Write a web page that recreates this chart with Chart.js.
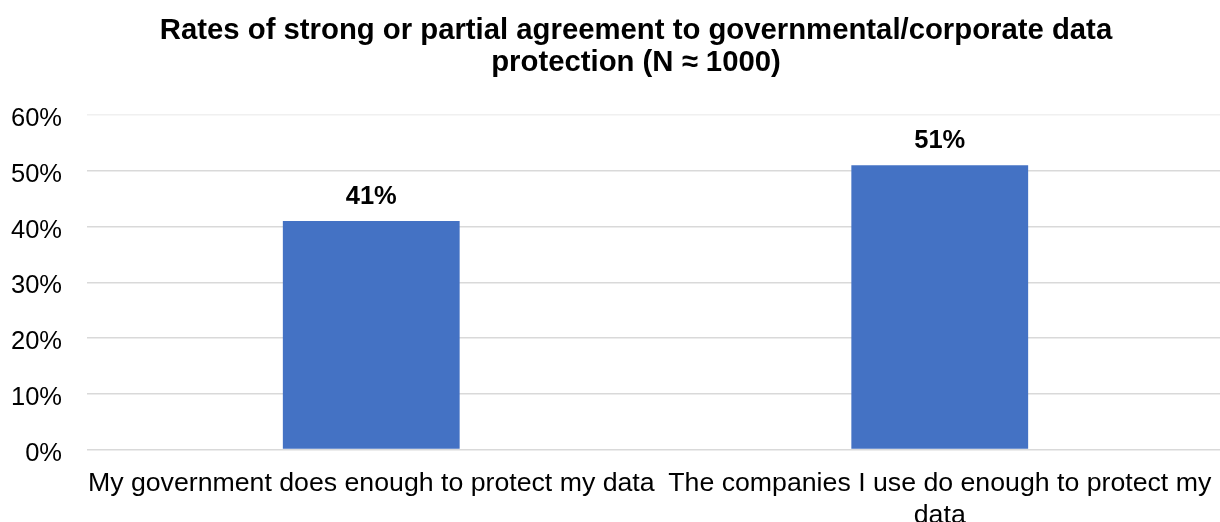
<!DOCTYPE html>
<html lang="en">
<head>
<meta charset="utf-8">
<title>Data protection agreement</title>
<style>
  html, body { margin: 0; padding: 0; background: #fff; overflow: hidden; }
  #wrap { width: 1224px; height: 522px; position: relative; }
</style>
</head>
<body>
<div id="wrap"><canvas id="myChart"></canvas></div>

<script src="https://cdn.jsdelivr.net/npm/chart.js"></script>
<script>
// categories (already wrapped into lines) and agreement rates in %
const categories = [
  ['My government does enough to protect my data'],
  ['The companies I use do enough to protect my', 'data']
];
const agreeRates = [41, 51];
const yTicks = [0, 10, 20, 30, 40, 50, 60];
const titleLines = [
  'Rates of strong or partial agreement to governmental/corporate data',
  'protection (N \u2248 1000)'
];

const FONT = '"Liberation Sans", Arial, Helvetica, sans-serif';

// two-line title, centred a bit right of the canvas middle
const chartTitle = {
  id: 'chartTitle',
  afterDraw(chart) {
    const ctx = chart.ctx;
    ctx.save();
    ctx.font = 'bold 29.3px ' + FONT;
    ctx.fillStyle = '#000';
    ctx.textAlign = 'center';
    ctx.textBaseline = 'middle';
    titleLines.forEach((line, i) => ctx.fillText(line, 636, 31 + i * 32));
    ctx.restore();
  }
};

// value labels above the bars
const barLabels = {
  id: 'barLabels',
  afterDatasetsDraw(chart) {
    const ctx = chart.ctx;
    const meta = chart.getDatasetMeta(0);
    ctx.save();
    ctx.font = 'bold 25.5px ' + FONT;
    ctx.fillStyle = '#000';
    ctx.textAlign = 'center';
    ctx.textBaseline = 'middle';
    meta.data.forEach((bar, i) => {
      ctx.fillText(agreeRates[i] + '%', bar.x, bar.y - 24);
    });
    ctx.restore();
  }
};

const ctx = document.getElementById('myChart');
const ch = new Chart(ctx, {
  type: 'bar',
  data: {
    labels: categories,
    datasets: [{
      data: agreeRates,
      backgroundColor: '#4472C4',
      barPercentage: 0.311,
      categoryPercentage: 1
    }]
  },
  options: {
    responsive: true,
    maintainAspectRatio: false,
    animation: false,
    layout: { padding: { left: 0, right: 0, top: 115, bottom: 0 } },
    plugins: {
      legend: { display: false },
      tooltip: { enabled: false },
      title: { display: false }
    },
    scales: {
      x: {
        grid: { display: false },
        border: { display: false },
        ticks: {
          color: '#000',
          padding: 10,
          maxRotation: 0,
          autoSkip: false,
          font: { family: FONT, size: 26.7, lineHeight: 1.2 }
        },
        afterFit(scale) { scale.height = 72.5; }
      },
      y: {
        min: 0,
        max: 60,
        afterBuildTicks(scale) { scale.ticks = yTicks.map(v => ({ value: v })); },
        grid: {
          drawTicks: false,
          lineWidth: 1.5,
          color: c => c.tick && c.tick.value === 60 ? '#f0f0f0' : '#d9d9d9'
        },
        border: { display: false },
        ticks: {
          color: '#000',
          padding: 25,
          labelOffset: 4,
          font: { family: FONT, size: 25.5 },
          callback: v => v + '%'
        },
        afterFit(scale) { scale.width = 87; }
      }
    }
  },
  plugins: [barLabels, chartTitle]
});
</script>
</body>
</html>
